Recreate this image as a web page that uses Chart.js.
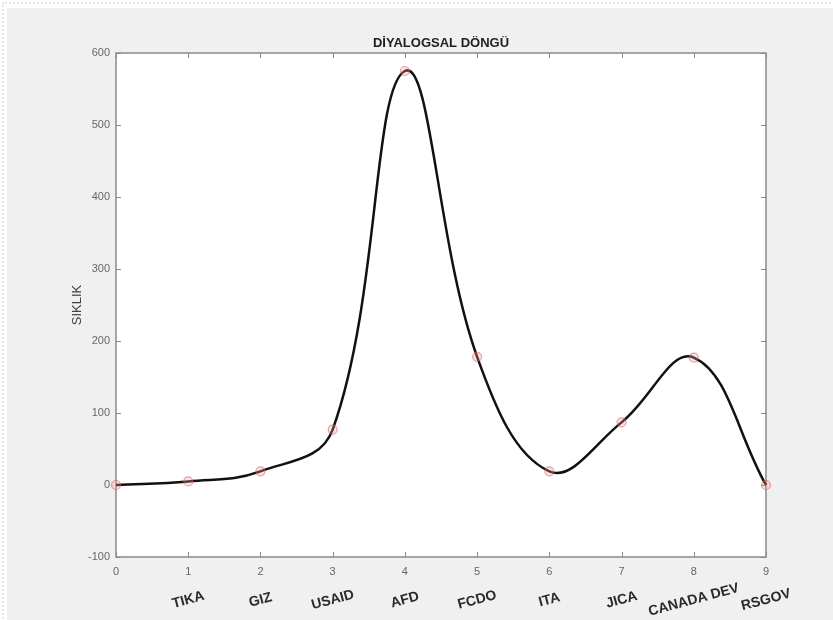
<!DOCTYPE html>
<html>
<head>
<meta charset="utf-8">
<script src="https://cdn.jsdelivr.net/npm/chart.js@4.4.1/dist/chart.umd.min.js"></script>
<style>
  html, body { margin: 0; padding: 0; background: #fff; }
  #frame { position: absolute; left: 2px; top: 2px; width: 831px; height: 618px;
           border-top: 2px dotted #e6e6e6; border-left: 2px dotted #e6e6e6; }
  #wrap { position: absolute; left: 7px; top: 8px; width: 826px; height: 612px; background: #f0f0f0; }
</style>
</head>
<body>
<div id="frame"></div>
<div id="wrap"><canvas id="chart" width="826" height="612"></canvas></div>
<script>
// data
const title = "DİYALOGSAL DÖNGÜ";
const yTitle = "SIKLIK";
const xValues = [0, 1, 2, 3, 4, 5, 6, 7, 8, 9];
const categories = ["", "TIKA", "GIZ", "USAID", "AFD", "FCDO", "ITA", "JICA", "CANADA DEV", "RSGOV"];
const counts = [0, 5, 19, 77, 575, 178, 19, 87, 177, 0];

const FONT = '"Liberation Sans", Arial, Helvetica, sans-serif';
const AXIS_COLOR = "#8a8a8a";

// MATLAB-like box, inward ticks, title and category texts
const matlabAxes = {
  id: "matlabAxes",
  beforeDatasetsDraw(chart) {
    const ctx = chart.ctx;
    const a = chart.chartArea;
    const xs = chart.scales.x, ys = chart.scales.y;
    ctx.save();
    ctx.fillStyle = "#fff";
    ctx.fillRect(a.left, a.top, a.right - a.left, a.bottom - a.top);
    ctx.strokeStyle = AXIS_COLOR;
    ctx.lineWidth = 1.5;
    ctx.strokeRect(a.left, a.top, a.right - a.left, a.bottom - a.top);
    ctx.lineWidth = 1;
    const tl = 5;
    xs.ticks.forEach(t => {
      const px = Math.round(xs.getPixelForValue(t.value)) + 0.5;
      ctx.beginPath();
      ctx.moveTo(px, a.bottom); ctx.lineTo(px, a.bottom - tl);
      ctx.moveTo(px, a.top); ctx.lineTo(px, a.top + tl);
      ctx.stroke();
    });
    ys.ticks.forEach(t => {
      const py = Math.round(ys.getPixelForValue(t.value)) + 0.5;
      ctx.beginPath();
      ctx.moveTo(a.left, py); ctx.lineTo(a.left + tl, py);
      ctx.moveTo(a.right, py); ctx.lineTo(a.right - tl, py);
      ctx.stroke();
    });
    ctx.restore();
  },
  afterDraw(chart) {
    const ctx = chart.ctx;
    const a = chart.chartArea;
    const xs = chart.scales.x;
    ctx.save();
    // title
    ctx.fillStyle = "#1e1e1e";
    ctx.font = "bold 13px " + FONT;
    ctx.textAlign = "center";
    ctx.textBaseline = "middle";
    ctx.fillText(title, (a.left + a.right) / 2, a.top - 10);
    // y axis title
    ctx.save();
    ctx.translate(a.left - 39, (a.top + a.bottom) / 2);
    ctx.rotate(-Math.PI / 2);
    ctx.fillStyle = "#404040";
    ctx.font = "13px " + FONT;
    ctx.fillText(yTitle, 0, 0);
    ctx.restore();
    // category labels under the numeric ticks
    ctx.fillStyle = "#2a2a2a";
    ctx.font = "bold 14px " + FONT;
    categories.forEach((c, i) => {
      if (!c) return;
      ctx.save();
      ctx.translate(xs.getPixelForValue(xValues[i]), a.bottom + 43);
      ctx.rotate(-15 * Math.PI / 180);
      ctx.fillText(c, 0, 0);
      ctx.restore();
    });
    ctx.restore();
  }
};

new Chart(document.getElementById("chart"), {
  type: "line",
  data: {
    datasets: [{
      data: xValues.map((x, i) => ({ x: x, y: counts[i] })),
      borderColor: "#111",
      borderWidth: 2.5,
      tension: 0.4,
      fill: false,
      clip: false,
      pointRadius: 4.5,
      pointBorderWidth: 1.2,
      pointBorderColor: "rgba(225, 90, 90, 0.55)",
      pointBackgroundColor: "rgba(240, 160, 160, 0.3)"
    }]
  },
  options: {
    responsive: false,
    devicePixelRatio: 1,
    animation: false,
    layout: { padding: { left: 0, right: 67, top: 45, bottom: 0 } },
    plugins: { legend: { display: false }, tooltip: { enabled: false } },
    scales: {
      x: {
        type: "linear",
        min: 0, max: 9,
        afterFit: s => { s.height = 63; },
        grid: { display: false, drawTicks: false },
        border: { display: false },
        ticks: { stepSize: 1, padding: 8, color: "#666", font: { size: 11, family: FONT } }
      },
      y: {
        min: -100, max: 600,
        afterFit: s => { s.width = 109; },
        grid: { display: false, drawTicks: false },
        border: { display: false },
        ticks: { stepSize: 100, padding: 6, color: "#666", font: { size: 11, family: FONT } }
      }
    }
  },
  plugins: [matlabAxes]
});
</script>
</body>
</html>
